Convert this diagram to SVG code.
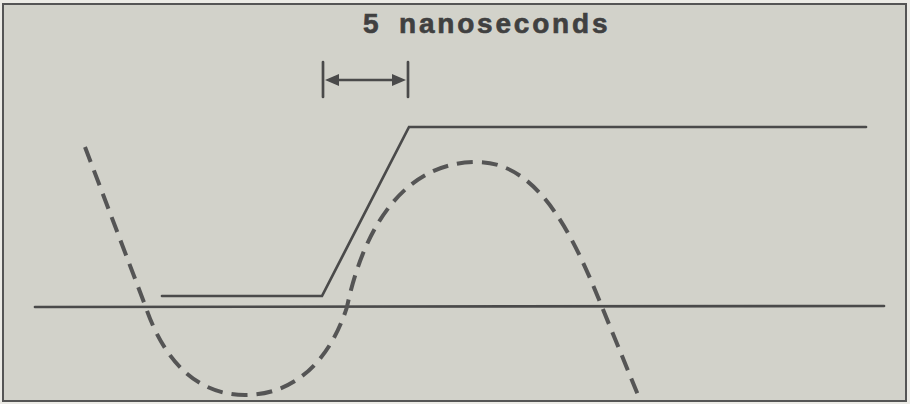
<svg xmlns="http://www.w3.org/2000/svg" width="910" height="404" viewBox="0 0 910 404">
<style>
.solid{fill:none;stroke:#4a4a4a;stroke-width:2.7;stroke-linecap:round;stroke-linejoin:miter}
.dash{fill:none;stroke:#555;stroke-width:4;stroke-dasharray:16 9}
.lbl{font-family:"Liberation Sans",Arial,sans-serif;font-weight:bold;font-size:28px;fill:#404040;stroke:#404040;stroke-width:0.6;letter-spacing:2.8px}
</style>
<rect x="0" y="0" width="910" height="404" fill="#ecebe6"/>
<rect x="3" y="4" width="903" height="397" fill="#d2d2ca" stroke="#555" stroke-width="2"/>
<g id="title"><text class="lbl" x="363" y="33">5 <tspan x="399">nanoseconds</tspan></text></g>
<g id="interval">
<line class="solid" x1="323" y1="62" x2="323" y2="97"/>
<line class="solid" x1="408" y1="62" x2="408" y2="97"/>
<line class="solid" x1="330" y1="80" x2="400" y2="80"/>
<polygon points="325,80 339,74 339,86" fill="#4a4a4a"/>
<polygon points="406,80 392,74 392,86" fill="#4a4a4a"/>
</g>
<g id="connectors">
<line class="solid" x1="35" y1="307" x2="884" y2="306" stroke-width="3"/>
<polyline id="step" class="solid" points="162,296 322,296 409,127 866,127"/>
<path id="wave" class="dash" d="M85,147 L145,305 C165,365 200,395 245,395 C295,395 330,360 347,307 C362,235 400,162 477,162 C540,162 575,240 602,307 L638,395"/>
</g>
</svg>
